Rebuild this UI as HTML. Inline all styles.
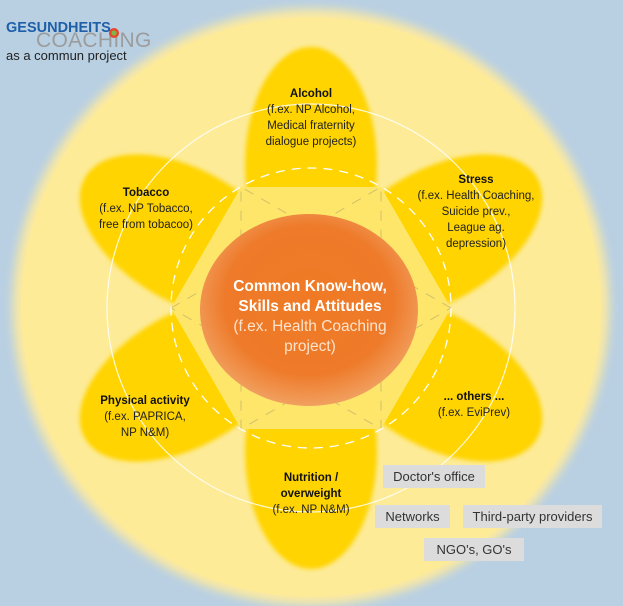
<!DOCTYPE html>
<html><head><meta charset="utf-8"><style>
html,body{margin:0;padding:0}
body{width:623px;height:606px;overflow:hidden;background:#b9d0e3;font-family:"Liberation Sans",sans-serif}
svg{position:absolute;left:0;top:0}
.t{position:absolute;text-align:center;font-size:11.5px;line-height:16px;color:#222;white-space:nowrap;transform:translateX(-50%)}
.t b{color:#111}
.box{position:absolute;background:#dcdcdc;color:#333;font-size:13px;height:23px;line-height:23px;text-align:center}
</style></head><body>
<svg width="623" height="606" viewBox="0 0 623 606">
<defs>
<radialGradient id="orb" cx="50%" cy="45%" r="55%">
<stop offset="0" stop-color="#f07a24"/><stop offset="0.7" stop-color="#ee7a2a"/><stop offset="1" stop-color="#f1a060"/>
</radialGradient>
<filter id="bl"><feGaussianBlur stdDeviation="5"/></filter>
<filter id="bl2"><feGaussianBlur stdDeviation="2"/></filter>
</defs>
<circle cx="311" cy="307" r="298" fill="#fbe9a0" filter="url(#bl)"/>
<circle cx="311" cy="307" r="290" fill="#fdeb97"/>
<g fill="#ffd400" filter="url(#bl2)">
<ellipse cx="311" cy="165" rx="66" ry="118" transform="rotate(0 311 308)"/>
<ellipse cx="311" cy="165" rx="66" ry="118" transform="rotate(60 311 308)"/>
<ellipse cx="311" cy="165" rx="66" ry="118" transform="rotate(120 311 308)"/>
<ellipse cx="311" cy="165" rx="66" ry="118" transform="rotate(180 311 308)"/>
<ellipse cx="311" cy="165" rx="66" ry="118" transform="rotate(240 311 308)"/>
<ellipse cx="311" cy="165" rx="66" ry="118" transform="rotate(300 311 308)"/>
</g>
<circle cx="311" cy="308" r="204" fill="none" stroke="#fff" stroke-width="1.2" opacity="0.85"/>
<polygon points="171,308 241,187 381,187 451,308 381,429 241,429" fill="#fde66a"/>
<g stroke="#c9b66a" stroke-width="1" stroke-dasharray="10,9" fill="none" opacity="0.8">
<polygon points="171,308 381,187 381,429"/>
<polygon points="451,308 241,187 241,429"/>
</g>
<circle cx="311" cy="308" r="140" fill="none" stroke="#fff" stroke-width="1.3" stroke-dasharray="9,7"/>
<ellipse cx="309" cy="310" rx="109" ry="96" fill="url(#orb)"/>
</svg>
<div style="position:absolute;left:36px;top:29px;font-size:21px;color:#9c9c9c;letter-spacing:0.3px">COACHING</div>
<div style="position:absolute;left:6px;top:20px;font-size:14.5px;font-weight:bold;color:#1f5fa8">GESUNDHEITS</div>
<svg width="623" height="606" style="pointer-events:none"><circle cx="114" cy="33" r="5" fill="#e8452a"/><circle cx="114" cy="33" r="2.6" fill="#7ab648"/></svg>
<div style="position:absolute;left:6px;top:48px;font-size:13px;color:#222">as a commun project</div>
<div class="t" style="left:311px;top:86px"><b>Alcohol</b><br>(f.ex. NP Alcohol,<br>Medical fraternity<br>dialogue projects)</div>
<div class="t" style="left:476px;top:172px"><b>Stress</b><br>(f.ex. Health Coaching,<br>Suicide prev.,<br>League ag.<br>depression)</div>
<div class="t" style="left:146px;top:185px"><b>Tobacco</b><br>(f.ex. NP Tobacco,<br>free from tobacoo)</div>
<div class="t" style="left:145px;top:393px"><b>Physical activity</b><br>(f.ex. PAPRICA,<br>NP N&amp;M)</div>
<div class="t" style="left:474px;top:389px"><b>... others ...</b><br>(f.ex. EviPrev)</div>
<div class="t" style="left:311px;top:470px"><b>Nutrition /<br>overweight</b><br>(f.ex. NP N&amp;M)</div>
<div class="t" style="left:310px;top:277px;font-size:15.5px;line-height:20px;color:#fff"><b style="color:#fff">Common Know-how,<br>Skills and Attitudes</b><br><span style="color:#fde3cc">(f.ex. Health Coaching<br>project)</span></div>
<div class="box" style="left:383px;top:465px;width:102px">Doctor's office</div>
<div class="box" style="left:375px;top:505px;width:75px">Networks</div>
<div class="box" style="left:463px;top:505px;width:139px">Third-party providers</div>
<div class="box" style="left:424px;top:538px;width:100px">NGO's, GO's</div>
</body></html>
